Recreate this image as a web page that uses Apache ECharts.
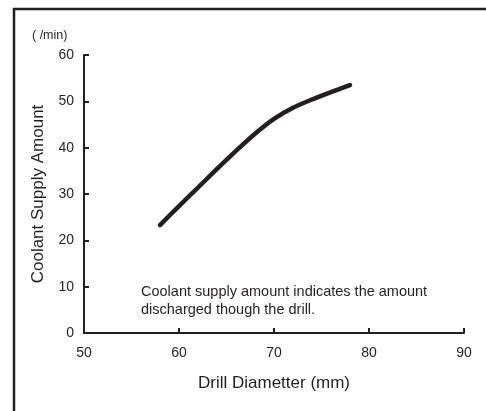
<!DOCTYPE html>
<html>
<head>
<meta charset="utf-8">
<script src="https://cdn.jsdelivr.net/npm/echarts@6/dist/echarts.min.js"></script>
<style>
  html, body { margin: 0; padding: 0; background: #fff; }
  #chart { width: 486px; height: 411px; }
</style>
</head>
<body>
<div id="chart"></div>
<script>
// drill diameter (mm) vs coolant supply amount (l/min)
var diameters = [58, 60, 62, 64, 66, 68, 70, 72, 74, 76, 78];
var coolant = [23.3, 27.4, 31.4, 35.4, 39.3, 43.0, 46.2, 48.6, 50.4, 52.0, 53.5];
var unitLabel = "( /min)";
var noteLines = ["Coolant supply amount indicates the amount", "discharged though the drill."];

var ink = "#231f20";
var font = "Liberation Sans, Arial, sans-serif";

var points = [];
for (var i = 0; i < diameters.length; i++) {
    points.push([diameters[i], coolant[i]]);
}

var myChart = echarts.init(document.getElementById("chart"));
var option = {
    animation: false,
    grid: { left: 84, right: 22, top: 55, bottom: 78 },
    xAxis: {
        type: "value",
        min: 50, max: 90, interval: 10,
        name: "Drill Diametter (mm)",
        nameLocation: "middle",
        nameGap: 42,
        nameTextStyle: { fontSize: 17, color: ink, fontFamily: font },
        axisLine: { lineStyle: { color: ink, width: 2 } },
        axisTick: { inside: true, length: 5, lineStyle: { color: ink, width: 2 } },
        axisLabel: { margin: 13, fontSize: 14, color: ink, fontFamily: font },
        splitLine: { show: false }
    },
    yAxis: {
        type: "value",
        min: 0, max: 60, interval: 10,
        name: "Coolant Supply Amount",
        nameLocation: "middle",
        nameRotate: 90,
        nameGap: 37,
        nameTextStyle: { fontSize: 17, color: ink, fontFamily: font },
        axisLine: { show: true, lineStyle: { color: ink, width: 2 } },
        axisTick: { show: true, inside: true, length: 5, lineStyle: { color: ink, width: 2 } },
        axisLabel: { margin: 10, fontSize: 14, color: ink, fontFamily: font },
        splitLine: { show: false }
    },
    graphic: [
        {
            type: "polyline",
            shape: { points: [[14, 411], [14, 9], [486, 9]] },
            style: { stroke: ink, lineWidth: 2.5, fill: null }
        },
        {
            type: "text", left: 32, top: 29,
            style: { text: unitLabel, fontSize: 12.5, fill: ink, fontFamily: font }
        },
        {
            type: "text", left: 141, top: 283,
            style: { text: noteLines.join("\n"), fontSize: 14.5, lineHeight: 18, fill: ink, fontFamily: font }
        }
    ],
    series: [{
        type: "line",
        data: points,
        smooth: 0.3,
        symbol: "none",
        lineStyle: { color: ink, width: 4.5, cap: "round" }
    }]
};
myChart.setOption(option);
</script>
</body>
</html>
